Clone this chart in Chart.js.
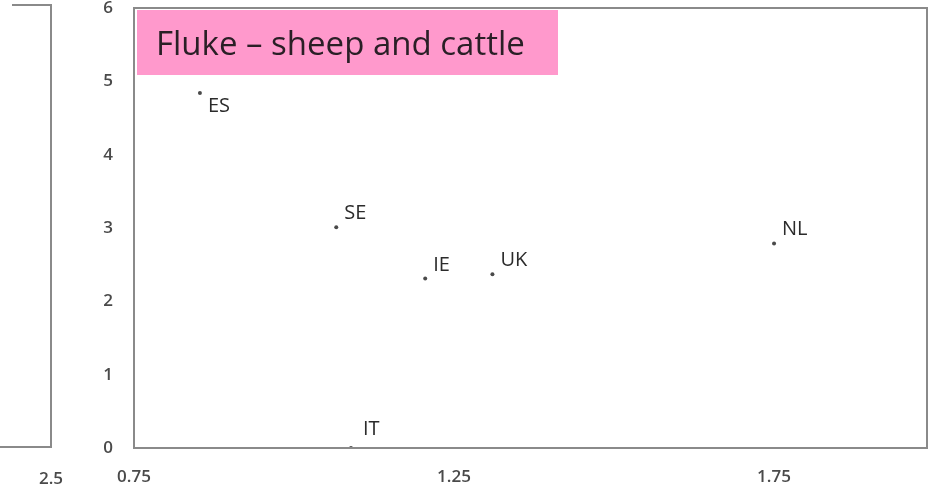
<!DOCTYPE html>
<html>
<head>
<meta charset="utf-8">
<script src="https://cdn.jsdelivr.net/npm/chart.js@4"></script>
<style>
  html, body { margin: 0; padding: 0; background: #fff; }
  #wrap { width: 948px; height: 491px; }
</style>
</head>
<body>
<div id="wrap"><canvas id="fluke"></canvas></div>
<script>
// countries and their values
const countries = ['ES', 'SE', 'IE', 'UK', 'NL', 'IT'];
const xValues = [0.853, 1.066, 1.205, 1.31, 1.75, 1.089];
const yValues = [4.84, 3.01, 2.31, 2.37, 2.79, 0];

const xTicks = [0.75, 1.25, 1.75];
const yTicks = [0, 1, 2, 3, 4, 5, 6];
const prevChartTick = '2.5';
const title = 'Fluke \u2013 sheep and cattle';

const points = countries.map((c, i) => ({ x: xValues[i], y: yValues[i], label: c }));

const FONT = "'Open Sans', sans-serif";
const TICK_COLOR = '#4a4a4a';

// border round the plot, the pink title box, point labels and the edge of the chart on the left
const decorations = {
  id: 'decorations',
  afterDatasetsDraw(chart) {
    const ctx = chart.ctx;
    const a = chart.chartArea;
    ctx.save();

    // frame
    ctx.strokeStyle = '#8a8a8a';
    ctx.lineWidth = 2;
    ctx.strokeRect(a.left, a.top, a.right - a.left, a.bottom - a.top);

    // right edge of the neighbouring chart
    const px = a.left - 83;
    ctx.beginPath();
    ctx.moveTo(px - 39, a.top - 3);
    ctx.lineTo(px, a.top - 3);
    ctx.lineTo(px, a.bottom - 1);
    ctx.lineTo(0, a.bottom - 1);
    ctx.stroke();
    ctx.fillStyle = TICK_COLOR;
    ctx.font = '600 17px ' + FONT;
    ctx.textAlign = 'center';
    ctx.textBaseline = 'alphabetic';
    ctx.fillText(prevChartTick, px, a.bottom + 36);

    // title box
    ctx.fillStyle = '#FF99CC';
    ctx.fillRect(a.left + 3, a.top + 2, 421, 65);
    ctx.fillStyle = '#2a1f26';
    ctx.font = '33px ' + FONT;
    ctx.textAlign = 'left';
    ctx.fillText(title, a.left + 22, a.top + 47);

    // point labels
    const meta = chart.getDatasetMeta(0);
    ctx.font = '500 20px ' + FONT;
    ctx.fillStyle = '#2b2b2b';
    meta.data.forEach((el, i) => {
      const lbl = points[i].label;
      let dx = 8, dy = -8;
      if (lbl === 'ES') dy = 19;
      if (lbl === 'IT') { dx = 12; dy = -13; }
      ctx.fillText(lbl, el.x + dx, el.y + dy);
    });
    ctx.restore();
  }
};

new Chart(document.getElementById('fluke'), {
  type: 'scatter',
  data: {
    datasets: [{
      data: points,
      pointRadius: 2,
      pointHoverRadius: 2,
      pointBackgroundColor: '#4a4a4a',
      pointBorderWidth: 0
    }]
  },
  options: {
    responsive: true,
    maintainAspectRatio: false,
    animation: false,
    layout: { padding: { left: 84, right: 21, top: 8, bottom: 0 } },
    plugins: {
      legend: { display: false },
      tooltip: { enabled: false }
    },
    scales: {
      x: {
        type: 'linear',
        min: 0.75,
        max: 1.989,
        afterBuildTicks: s => { s.ticks = xTicks.map(v => ({ value: v })); },
        afterFit: s => { s.height = 43; s.paddingLeft = 0; s.paddingRight = 0; },
        grid: { display: false, drawTicks: false },
        border: { display: false },
        ticks: {
          padding: 19,
          color: TICK_COLOR,
          font: { family: FONT, size: 17, weight: '600' },
          callback: v => String(v)
        }
      },
      y: {
        min: 0,
        max: 6,
        afterBuildTicks: s => { s.ticks = yTicks.map(v => ({ value: v })); },
        afterFit: s => { s.width = 50; s.paddingTop = 0; s.paddingBottom = 0; },
        grid: { display: false, drawTicks: false },
        border: { display: false },
        ticks: {
          padding: 21,
          color: TICK_COLOR,
          font: { family: FONT, size: 17, weight: '600' }
        }
      }
    }
  },
  plugins: [decorations]
});
</script>
</body>
</html>
